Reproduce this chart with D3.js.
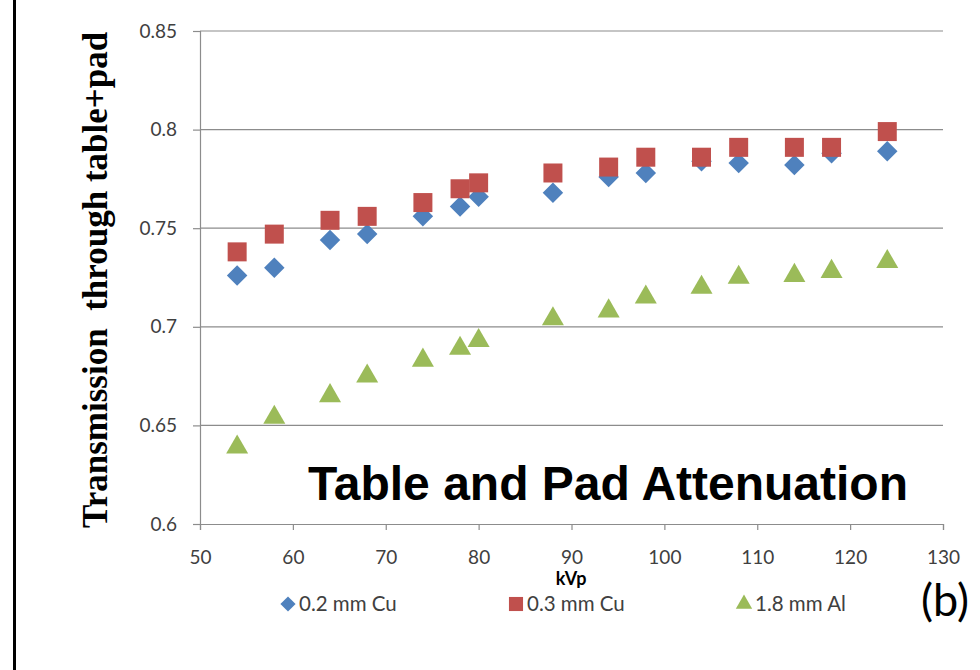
<!DOCTYPE html>
<html>
<head>
<meta charset="utf-8">
<script src="https://cdn.jsdelivr.net/npm/d3@7"></script>
<style>
  html, body { margin: 0; padding: 0; background: #fff; }
  svg { display: block; }
</style>
</head>
<body>
<svg id="chart" width="980" height="670"></svg>
<script>
// données
const kvp = [54, 58, 64, 68, 74, 78, 80, 88, 94, 98, 104, 108, 114, 118, 124];
const cu02 = [0.726, 0.730, 0.744, 0.747, 0.756, 0.761, 0.766, 0.768, 0.776, 0.778, 0.784, 0.783, 0.782, 0.788, 0.789];
const cu03 = [0.738, 0.747, 0.754, 0.756, 0.763, 0.770, 0.773, 0.778, 0.781, 0.786, 0.786, 0.791, 0.791, 0.791, 0.799];
const al18 = [0.639, 0.654, 0.665, 0.675, 0.683, 0.689, 0.693, 0.704, 0.708, 0.715, 0.720, 0.725, 0.726, 0.728, 0.733];
const xTicks = [50, 60, 70, 80, 90, 100, 110, 120, 130];
const yTicks = [0.6, 0.65, 0.7, 0.75, 0.8, 0.85];
const seriesNames = ["0.2 mm Cu", "0.3 mm Cu", "1.8 mm Al"];

const svg = d3.select("#chart");
const W = 980, H = 670;
const plot = { left: 200, right: 943, top: 31, bottom: 524 };
const sansFont = "Lato, 'Open Sans', sans-serif";

svg.append("rect").attr("width", W).attr("height", H).attr("fill", "#fff");
// bord noir à gauche
svg.append("rect").attr("x", 13).attr("y", 0).attr("width", 3).attr("height", H).attr("fill", "#000");

const x = d3.scaleLinear().domain([50, 130]).range([plot.left, plot.right]);
const y = d3.scaleLinear().domain([0.6, 0.85]).range([plot.bottom, plot.top]);

// --- grille horizontale ---
svg.append("g")
  .selectAll("line")
  .data(yTicks.filter(d => d > 0.6))
  .join("line")
  .attr("x1", plot.left).attr("x2", plot.right)
  .attr("y1", d => y(d)).attr("y2", d => y(d))
  .attr("stroke", "#8c8c8c").attr("stroke-width", 1.2);

// --- axes ---
const xAxis = svg.append("g")
  .attr("transform", `translate(0,${plot.bottom})`)
  .call(d3.axisBottom(x).tickValues(xTicks).tickSize(6).tickPadding(21).tickFormat(d3.format("d")));
const yAxis = svg.append("g")
  .attr("transform", `translate(${plot.left},0)`)
  .call(d3.axisLeft(y).tickValues(yTicks).tickSize(7).tickPadding(16).tickFormat(d => String(d)));

[xAxis, yAxis].forEach(a => {
  a.select(".domain").attr("stroke", "#8c8c8c").attr("stroke-width", 1.2);
  a.selectAll(".tick line").attr("stroke", "#8c8c8c").attr("stroke-width", 1.2);
  a.selectAll(".tick text")
    .attr("fill", "#404040")
    .style("font-family", sansFont)
    .style("font-size", "19px");
});
xAxis.selectAll(".tick text").attr("dy", "0.71em");

// --- titres ---
svg.append("text")
  .attr("transform", "translate(107,528) rotate(-90)")
  .attr("text-anchor", "start")
  .attr("xml:space", "preserve")
  .style("font-family", "'Liberation Serif', 'Times New Roman', serif")
  .style("font-weight", "bold")
  .style("font-size", "35px")
  .style("white-space", "pre")
  .attr("fill", "#000")
  .text("Transmission  through table+pad");

svg.append("text")
  .attr("x", 571).attr("y", 585)
  .attr("text-anchor", "middle")
  .style("font-family", sansFont)
  .style("font-weight", "bold")
  .style("font-size", "18px")
  .attr("fill", "#000")
  .text("kVp");

svg.append("text")
  .attr("x", 608).attr("y", 500)
  .attr("text-anchor", "middle")
  .style("font-family", "'Liberation Sans', Arial, sans-serif")
  .style("font-weight", "bold")
  .style("font-size", "48px")
  .attr("fill", "#000")
  .text("Table and Pad Attenuation");

// --- séries ---
const series = [
  { name: seriesNames[0], values: cu02, color: "#4f81bd", type: "diamond" },
  { name: seriesNames[1], values: cu03, color: "#c0504d", type: "square" },
  { name: seriesNames[2], values: al18, color: "#9bbb59", type: "triangle" }
];

function symbolPath(type, scale) {
  if (type === "square") return d3.symbol(d3.symbolSquare, 361 * scale)();
  if (type === "diamond") return d3.symbol(d3.symbolSquare, 210 * scale)();
  return d3.symbol(d3.symbolTriangle, 210 * scale)();
}
function symbolTransform(type, px, py) {
  return type === "diamond"
    ? `translate(${px},${py}) rotate(45)`
    : `translate(${px},${py})`;
}

series.forEach(s => {
  svg.append("g")
    .selectAll("path")
    .data(kvp.map((k, i) => [k, s.values[i]]))
    .join("path")
    .attr("d", symbolPath(s.type, 1))
    .attr("transform", d => symbolTransform(s.type, x(d[0]), y(d[1])))
    .attr("fill", s.color);
});

// --- légende ---
const legendX = [288, 516, 744];
const legend = svg.append("g");
series.forEach((s, i) => {
  legend.append("path")
    .attr("d", symbolPath(s.type, 0.55))
    .attr("transform", symbolTransform(s.type, legendX[i], 604))
    .attr("fill", s.color);
  legend.append("text")
    .attr("x", legendX[i] + 11).attr("y", 611)
    .style("font-family", sansFont)
    .style("font-size", "20.5px")
    .attr("fill", "#404040")
    .text(s.name);
});

svg.append("text")
  .attr("x", 921).attr("y", 616)
  .style("font-family", sansFont)
  .style("font-size", "45px")
  .attr("fill", "#000")
  .text("(b)");
</script>
</body>
</html>
